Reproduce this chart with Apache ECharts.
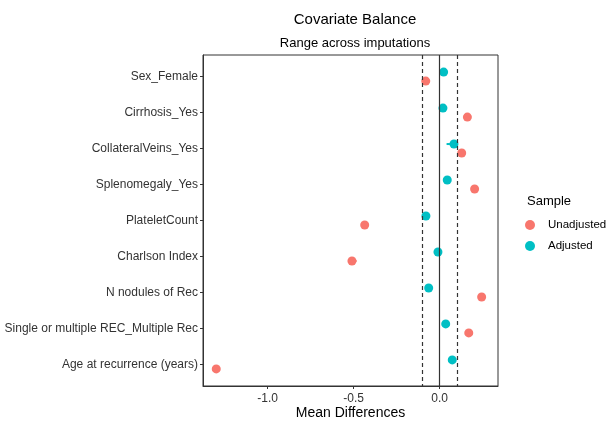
<!DOCTYPE html>
<html>
<head>
<meta charset="utf-8">
<script src="https://cdn.jsdelivr.net/npm/echarts@6/dist/echarts.min.js"></script>
<style>
  html, body { margin: 0; padding: 0; background: #fff; }
  #chart { width: 609px; height: 422px; }
</style>
</head>
<body>
<div id="chart"></div>
<script>
const covariates = [
  'Sex_Female',
  'Cirrhosis_Yes',
  'CollateralVeins_Yes',
  'Splenomegaly_Yes',
  'PlateletCount',
  'Charlson Index',
  'N nodules of Rec',
  'Single or multiple REC_Multiple Rec',
  'Age at recurrence (years)'
];

// mean differences
const unadjusted = [-0.081, 0.161, 0.128, 0.203, -0.436, -0.510, 0.244, 0.169, -1.299];
const adjusted = [0.023, 0.019, 0.083, 0.044, -0.080, -0.010, -0.064, 0.035, 0.073];

// range across imputations (lo, hi)
const unadjustedLo = [-0.081, 0.161, 0.128, 0.203, -0.436, -0.510, 0.244, 0.169, -1.299];
const unadjustedHi = [-0.081, 0.161, 0.128, 0.203, -0.436, -0.483, 0.244, 0.169, -1.299];
const adjustedLo = [0.023, 0.019, 0.040, 0.044, -0.080, -0.010, -0.064, 0.035, 0.065];
const adjustedHi = [0.023, 0.019, 0.083, 0.044, -0.080, -0.010, -0.064, 0.035, 0.073];

const xTicks = [-1, -0.5, 0];
const threshold = 0.1;

const RED = '#F8766D';
const TEAL = '#00BFC4';
const TEXT = '#333';
const OFFSET = 4.5; // px dodge between the two samples

const chart = echarts.init(document.getElementById('chart'));

function rangeSeries(name, lo, hi, color, dy) {
  return {
    name: name,
    type: 'custom',
    silent: true,
    z: 3,
    data: lo.map((v, i) => [v, i, hi[i]]),
    renderItem: function (params, api) {
      const a = api.coord([api.value(0), api.value(1)]);
      const b = api.coord([api.value(2), api.value(1)]);
      if (Math.abs(b[0] - a[0]) < 0.5) return null;
      return {
        type: 'line',
        shape: { x1: a[0], y1: a[1] + dy, x2: b[0], y2: b[1] + dy },
        style: { stroke: color, lineWidth: 2 }
      };
    }
  };
}

const option = {
  animation: false,
  backgroundColor: '#fff',
  textStyle: { fontFamily: 'Liberation Sans, Arial, sans-serif' },
  title: [
    {
      text: 'Covariate Balance',
      subtext: 'Range across imputations',
      left: 350,
      textAlign: 'center',
      top: 7,
      itemGap: 10,
      textStyle: { fontSize: 15, fontWeight: 'normal', color: '#000' },
      subtextStyle: { fontSize: 13, color: '#000' }
    },
    {
      text: 'Sample',
      left: 522,
      top: 190,
      textStyle: { fontSize: 13, fontWeight: 'normal', color: '#000' }
    }
  ],
  legend: {
    data: ['Unadjusted', 'Adjusted'],
    orient: 'vertical',
    left: 520,
    top: 214,
    itemGap: 9,
    itemWidth: 10,
    itemHeight: 10,
    icon: 'circle',
    textStyle: { fontSize: 11.5, color: '#000', padding: [0, 0, 0, 8] }
  },
  grid: {
    left: 203,
    right: 111,
    top: 55,
    bottom: 36,
    outerBoundsMode: 'none',
    show: true,
    borderColor: '#333',
    borderWidth: 1,
    backgroundColor: '#fff'
  },
  xAxis: {
    type: 'value',
    min: -1.376,
    max: 0.339,
    name: 'Mean Differences',
    nameLocation: 'middle',
    nameMoveOverlap: false,
    nameGap: 20,
    nameTextStyle: { fontSize: 14, color: '#000', verticalAlign: 'top' },
    axisLine: { show: true, onZero: false, lineStyle: { color: '#333' } },
    axisTick: { show: true, length: 3, customValues: xTicks, lineStyle: { color: '#333' } },
    axisLabel: {
      customValues: xTicks,
      formatter: v => v.toFixed(1),
      fontSize: 12,
      color: TEXT,
      margin: 7
    },
    splitLine: { show: false }
  },
  yAxis: {
    type: 'value',
    inverse: true,
    min: -0.6,
    max: covariates.length - 0.4,
    axisLine: { show: true, onZero: false, lineStyle: { color: '#333' } },
    axisTick: {
      show: true,
      length: 3,
      customValues: covariates.map((c, i) => i),
      lineStyle: { color: '#333' }
    },
    axisLabel: {
      customValues: covariates.map((c, i) => i),
      formatter: v => covariates[Math.round(v)] || '',
      fontSize: 12,
      color: TEXT,
      margin: 5
    },
    splitLine: { show: false }
  },
  series: [
    {
      name: 'refs',
      type: 'line',
      data: [],
      silent: true,
      markLine: {
        silent: true,
        symbol: 'none',
        label: { show: false },
        data: [
          { xAxis: -threshold, lineStyle: { color: '#333', type: [4, 3], width: 1.2 } },
          { xAxis: threshold, lineStyle: { color: '#333', type: [4, 3], width: 1.2 } },
          { xAxis: 0, lineStyle: { color: '#333', type: 'solid', width: 1.2 } }
        ]
      }
    },
    rangeSeries('unadjRange', unadjustedLo, unadjustedHi, RED, OFFSET),
    rangeSeries('adjRange', adjustedLo, adjustedHi, TEAL, -OFFSET),
    {
      name: 'Unadjusted',
      type: 'scatter',
      z: 4,
      symbol: 'circle',
      symbolSize: 9,
      symbolOffset: [0, OFFSET],
      itemStyle: { color: RED, opacity: 1 },
      data: unadjusted.map((v, i) => [v, i])
    },
    {
      name: 'Adjusted',
      type: 'scatter',
      z: 4,
      symbol: 'circle',
      symbolSize: 9,
      symbolOffset: [0, -OFFSET],
      itemStyle: { color: TEAL, opacity: 1 },
      data: adjusted.map((v, i) => [v, i])
    }
  ]
};

chart.setOption(option);
</script>
</body>
</html>
